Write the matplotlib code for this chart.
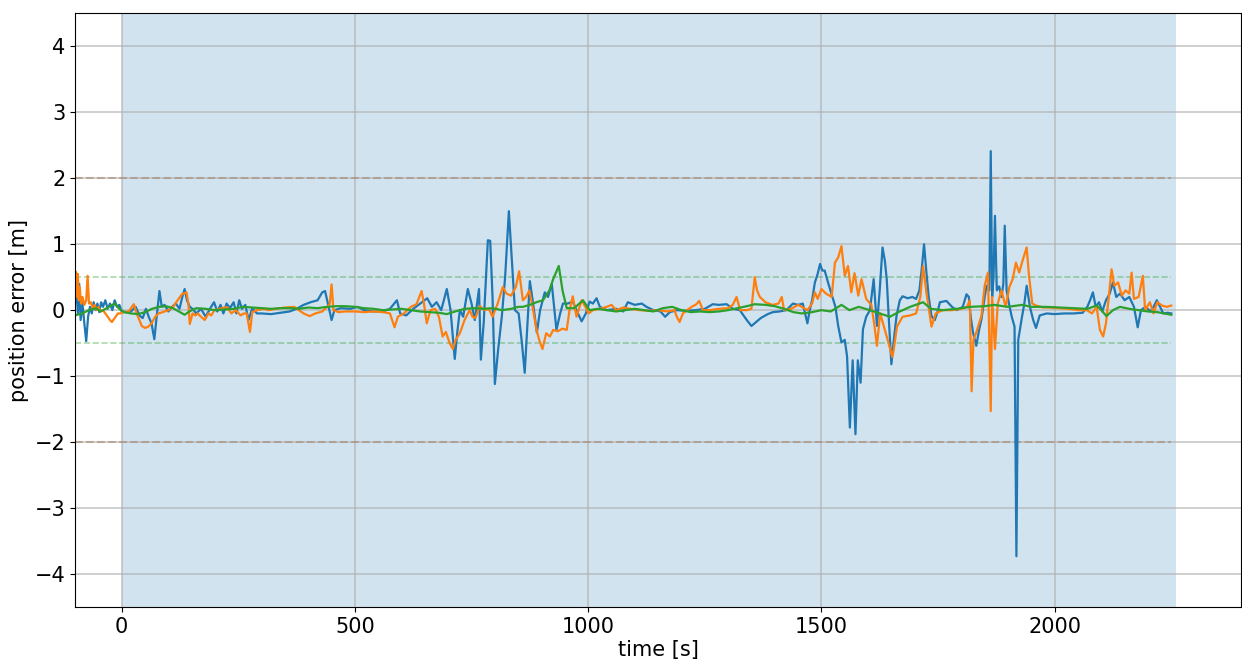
import matplotlib
matplotlib.use('Agg')
import matplotlib.pyplot as plt
import numpy as np

# error x (blue)
t_x = [-100, -97, -94, -91, -88, -84, -80, -76, -72, -68, -64, -60, -56, -52, -48, -44, -40, -35, -30, -25,
       -20, -15, -10, -5, 0, 10, 20, 30, 38, 45, 52, 58, 64, 70, 75, 81, 86, 92, 100, 108,
       116, 124, 130, 135, 140, 146, 152, 160, 170, 180, 190, 198, 205, 212, 218, 225, 232, 240, 246, 252,
       258, 265, 272, 280, 290, 300, 320, 340, 360, 375, 390, 405, 420, 430, 436, 442, 450, 456, 470, 490,
       505, 520, 540, 560, 575, 590, 597, 610, 625, 640, 655, 665, 675, 685, 697, 705, 714, 720, 725, 732,
       742, 750, 757, 766, 770, 776, 785, 790, 795, 800, 807, 815, 822, 830, 836, 843, 851, 858, 864, 870,
       875, 882, 890, 897, 907, 914, 922, 932, 940, 946, 956, 967, 975, 986, 995, 1003, 1010, 1018, 1025, 1040,
       1060, 1075, 1085, 1100, 1115, 1125, 1140, 1155, 1165, 1175, 1190, 1210, 1230, 1250, 1267, 1280, 1297, 1310, 1325, 1340,
       1350, 1360, 1370, 1385, 1396, 1410, 1425, 1439, 1450, 1460, 1470, 1475, 1480, 1486, 1492, 1497, 1502, 1507, 1515, 1525,
       1530, 1536, 1543, 1550, 1555, 1561, 1567, 1573, 1578, 1584, 1589, 1596, 1604, 1612, 1619, 1625, 1631, 1636, 1640, 1645,
       1650, 1656, 1661, 1668, 1674, 1685, 1695, 1703, 1710, 1715, 1720, 1725, 1730, 1736, 1743, 1750, 1754, 1768, 1780, 1790,
       1803, 1811, 1816, 1820, 1825, 1832, 1838, 1843, 1850, 1854, 1860, 1863, 1866, 1869, 1872, 1876, 1881, 1886, 1890, 1893,
       1897, 1902, 1908, 1914, 1918, 1922, 1930, 1935, 1940, 1947, 1954, 1960, 1968, 1983, 2000, 2020, 2040, 2060, 2070, 2076,
       2082, 2088, 2095, 2102, 2110, 2118, 2125, 2132, 2140, 2150, 2160, 2170, 2178, 2185, 2195, 2205, 2212, 2219, 2226, 2233,
       2242, 2250]
err_x = [0.1, 0.35, -0.05, 0.4, -0.15, 0.1, -0.2, -0.47, -0.1, 0.05, -0.05, 0.12, 0.0, 0.1, -0.03, 0.12, 0.05, 0.15, 0.02, 0.1,
         0.0, 0.15, 0.05, 0.08, -0.02, -0.03, -0.02, 0.05, -0.08, -0.12, 0.02, -0.1, -0.2, -0.44, -0.1, 0.29, 0.05, 0.08, -0.02, 0.05,
         0.1, 0.02, 0.2, 0.32, 0.15, 0.05, 0.02, -0.05, 0.02, -0.1, 0.03, 0.12, -0.02, 0.08, -0.05, 0.1, 0.03, 0.12, -0.05, 0.15,
         0.02, 0.08, -0.15, 0.03, -0.05, -0.05, -0.06, -0.04, -0.02, 0.02, 0.08, 0.12, 0.15, 0.27, 0.29, 0.1, -0.15, 0.0, 0.03, 0.02,
         0.05, 0.0, -0.02, -0.02, 0.02, 0.15, -0.05, -0.08, 0.02, 0.1, 0.18, 0.05, 0.12, 0.0, 0.32, 0.0, -0.74, -0.3, 0.0, -0.1,
         0.32, 0.1, -0.15, 0.32, -0.75, -0.2, 1.06, 1.05, 0.2, -1.12, -0.6, -0.09, 0.5, 1.5, 0.8, 0.0, -0.05, -0.5, -0.95, -0.2,
         0.44, 0.1, -0.34, 0.0, 0.27, 0.2, 0.4, -0.3, -0.05, 0.1, 0.1, 0.13, 0.0, -0.17, -0.05, 0.13, 0.1, 0.18, 0.05, 0.0,
         0.02, -0.02, 0.12, 0.08, 0.1, 0.05, 0.0, -0.02, -0.1, -0.03, 0.0, -0.01, 0.0, 0.02, 0.09, 0.08, 0.09, 0.02, 0.0, -0.15,
         -0.24, -0.18, -0.12, -0.06, -0.03, -0.02, 0.0, 0.1, 0.08, 0.1, -0.2, 0.0, 0.15, 0.42, 0.55, 0.7, 0.6, 0.6, 0.4, 0.17,
         0.05, -0.24, -0.49, -0.45, -0.7, -1.78, -0.76, -1.88, -0.76, -1.1, -0.29, -0.1, 0.0, 0.47, -0.24, 0.3, 0.95, 0.75, 0.47, -0.2,
         -0.82, -0.4, -0.09, 0.15, 0.21, 0.18, 0.2, 0.17, 0.3, 0.62, 1.0, 0.58, 0.2, -0.09, -0.15, 0.0, 0.12, 0.14, 0.05, 0.0,
         0.05, 0.24, 0.2, -0.1, -0.34, -0.54, -0.3, -0.14, 0.2, 0.37, 0.3, 2.41, 0.2, 0.5, 1.43, 0.3, 0.36, 0.2, 0.4, 1.28,
         0.3, 0.1, -0.1, -0.25, -3.73, -0.45, -0.1, 0.1, 0.37, 0.05, -0.15, -0.27, -0.08, -0.05, -0.06, -0.05, -0.05, -0.04, 0.05, 0.15,
         0.27, 0.05, 0.12, -0.02, 0.15, 0.25, 0.42, 0.2, 0.25, 0.15, 0.2, 0.05, -0.26, 0.0, 0.05, -0.02, 0.05, 0.15, 0.05, -0.05,
         -0.04, -0.05]

# error y (orange)
t_y = [-100, -98, -96, -94, -92, -90, -87, -84, -80, -76, -73, -70, -66, -62, -58, -54, -50, -45, -40, -35,
       -30, -25, -21, -15, -8, -3, 5, 15, 22, 26, 32, 38, 43, 50, 57, 64, 72, 79, 88, 100,
       110, 120, 129, 139, 143, 146, 152, 158, 163, 170, 178, 186, 192, 199, 210, 220, 227, 235, 245, 255,
       262, 268, 275, 280, 290, 305, 315, 330, 350, 370, 390, 403, 415, 430, 446, 450, 454, 465, 480, 500,
       520, 540, 560, 575, 585, 592, 605, 620, 632, 643, 648, 654, 662, 672, 680, 688, 695, 703, 710, 716,
       725, 735, 746, 752, 758, 768, 778, 787, 795, 806, 817, 825, 835, 845, 852, 860, 867, 874, 882, 889,
       895, 902, 910, 918, 925, 935, 945, 954, 960, 967, 975, 986, 994, 1001, 1010, 1025, 1040, 1050, 1060, 1075,
       1090, 1110, 1130, 1150, 1170, 1185, 1190, 1196, 1203, 1212, 1222, 1232, 1238, 1246, 1260, 1280, 1300, 1310, 1318, 1326,
       1340, 1350, 1357, 1362, 1368, 1380, 1395, 1408, 1415, 1420, 1435, 1450, 1458, 1470, 1480, 1486, 1492, 1500, 1510, 1522,
       1529, 1536, 1543, 1550, 1557, 1564, 1571, 1579, 1586, 1596, 1607, 1613, 1619, 1626, 1640, 1652, 1655, 1662, 1674, 1690,
       1703, 1712, 1718, 1725, 1736, 1745, 1760, 1780, 1800, 1812, 1818, 1822, 1826, 1832, 1838, 1843, 1850, 1857, 1863, 1866,
       1872, 1878, 1886, 1895, 1903, 1910, 1917, 1924, 1932, 1940, 1945, 1952, 1960, 1975, 1990, 2010, 2030, 2050, 2069, 2080,
       2090, 2097, 2104, 2110, 2116, 2122, 2128, 2136, 2144, 2152, 2160, 2165, 2170, 2180, 2189, 2194, 2204, 2212, 2220, 2230,
       2240, 2250]
err_y = [0.3, 0.58, 0.2, 0.55, 0.15, 0.35, 0.1, 0.2, 0.08, 0.15, 0.52, 0.1, 0.12, 0.02, 0.08, 0.0, 0.05, -0.02, 0.0, -0.05,
         -0.1, -0.15, -0.18, -0.12, -0.05, -0.05, -0.03, -0.02, 0.05, 0.09, -0.05, -0.15, -0.24, -0.27, -0.25, -0.2, -0.1, -0.05, -0.03, 0.0,
         0.05, 0.15, 0.24, 0.27, 0.1, -0.21, -0.05, -0.08, -0.05, -0.1, -0.15, -0.05, -0.08, 0.0, 0.02, 0.04, 0.04, -0.05, 0.0, -0.08,
         -0.05, -0.05, -0.33, -0.03, 0.0, 0.02, 0.0, 0.02, 0.04, 0.05, -0.05, -0.09, -0.05, -0.02, 0.09, 0.39, 0.0, -0.03, -0.02, -0.02,
         -0.03, -0.02, -0.03, -0.05, -0.26, -0.1, -0.05, 0.05, 0.09, 0.29, 0.1, -0.2, 0.0, 0.02, -0.1, -0.4, -0.33, -0.5, -0.59, -0.45,
         -0.35, -0.15, 0.0, -0.1, -0.12, 0.06, 0.0, 0.02, -0.1, 0.1, 0.35, 0.25, 0.22, 0.35, 0.59, 0.15, 0.2, 0.3, 0.0, -0.29,
         -0.45, -0.59, -0.35, -0.4, -0.3, -0.32, -0.28, -0.3, 0.0, 0.21, -0.1, 0.15, 0.05, -0.05, 0.0, 0.02, 0.05, 0.08, 0.0, 0.04,
         0.02, 0.0, -0.01, 0.0, -0.02, 0.0, -0.1, -0.18, -0.05, 0.0, 0.05, 0.09, 0.14, 0.0, 0.0, 0.02, 0.03, 0.08, 0.2, 0.0,
         0.0, 0.02, 0.5, 0.3, 0.2, 0.12, 0.08, 0.1, 0.2, 0.0, 0.02, 0.08, 0.05, 0.0, 0.1, 0.27, 0.17, 0.32, 0.25, 0.2,
         0.72, 0.8, 0.97, 0.52, 0.67, 0.27, 0.56, 0.22, 0.47, 0.17, 0.08, -0.2, -0.54, -0.05, -0.4, -0.71, -0.6, -0.25, -0.1, -0.08,
         -0.05, 0.2, 0.67, 0.27, -0.25, -0.05, 0.0, 0.0, 0.02, 0.05, 0.15, -1.23, -0.44, -0.34, -0.2, -0.09, 0.37, 0.57, -1.53, 0.2,
         -0.59, 0.1, 0.3, 0.05, 0.35, 0.47, 0.72, 0.57, 0.77, 0.95, 0.52, 0.1, 0.07, 0.04, 0.04, 0.03, 0.02, 0.0, 0.0, -0.05,
         0.05, -0.3, -0.4, -0.2, 0.2, 0.62, 0.37, 0.42, 0.22, 0.3, 0.25, 0.57, 0.17, 0.2, 0.52, 0.0, 0.12, -0.05, 0.12, 0.07,
         0.05, 0.07]

# error z (green)
t_z = [-100, -85, -70, -55, -45, -35, -25, -15, -5, 5, 20, 35, 50, 65, 80, 95, 110, 125, 135, 145,
       160, 180, 200, 220, 240, 260, 280, 300, 320, 340, 360, 380, 400, 420, 440, 460, 480, 500, 520, 540,
       560, 580, 600, 620, 640, 660, 680, 697, 715, 735, 755, 775, 795, 815, 835, 850, 860, 875, 889, 903,
       917, 925, 937, 945, 954, 970, 989, 1003, 1020, 1040, 1060, 1080, 1100, 1120, 1140, 1160, 1180, 1200, 1220, 1240,
       1260, 1280, 1300, 1320, 1340, 1357, 1380, 1400, 1420, 1440, 1458, 1480, 1500, 1520, 1543, 1560, 1580, 1604, 1625, 1647,
       1665, 1690, 1718, 1735, 1760, 1790, 1820, 1850, 1870, 1900, 1930, 1950, 1980, 2010, 2040, 2070, 2090, 2100, 2111, 2125,
       2140, 2160, 2180, 2200, 2220, 2250]
err_z = [-0.08, -0.05, 0.0, 0.03, -0.02, 0.02, 0.06, 0.1, 0.02, -0.03, -0.05, -0.06, -0.03, 0.02, 0.05, 0.06, 0.03, -0.03, -0.07, -0.02,
         0.03, 0.02, 0.0, 0.01, 0.02, 0.05, 0.04, 0.03, 0.02, 0.03, 0.03, 0.02, 0.04, 0.03, 0.05, 0.06, 0.06, 0.05, 0.03, 0.02,
         0.0, 0.01, 0.02, 0.0, -0.02, -0.03, -0.04, -0.06, -0.02, 0.02, 0.03, 0.02, 0.03, 0.0, 0.02, 0.05, 0.05, 0.08, 0.12, 0.15,
         0.3, 0.47, 0.67, 0.3, 0.03, 0.03, 0.15, 0.0, 0.02, 0.0, -0.02, 0.0, 0.02, 0.0, -0.02, 0.03, 0.05, 0.0, -0.03, -0.02,
         -0.03, -0.02, 0.0, 0.03, 0.06, 0.09, 0.08, 0.06, 0.02, -0.03, -0.05, -0.03, 0.0, -0.02, 0.08, 0.0, 0.05, 0.0, -0.05, -0.1,
         -0.03, 0.05, 0.12, 0.02, 0.0, 0.02, 0.05, 0.06, 0.08, 0.05, 0.08, 0.05, 0.05, 0.04, 0.03, 0.02, 0.07, 0.0, -0.09, 0.0,
         0.05, 0.02, 0.0, -0.02, -0.03, -0.07]

limits_big = [2, -2]
limits_small = [0.5, -0.5]
t_start = 0
t_end = 2260

fig = plt.figure(figsize=(12.42, 6.62), dpi=100)
ax = fig.add_axes([0.0604, 0.083, 0.939, 0.897])

ax.axvspan(t_start, t_end, color='C0', alpha=0.2, lw=0)

t0, t1 = min(t_x), max(t_x)
for lim in limits_big:
    ax.plot([t0, t1], [lim, lim], '--', color='#a88a72', alpha=0.6, lw=1.5)
for lim in limits_small:
    ax.plot([t0, t1], [lim, lim], '--', color='C2', alpha=0.4, lw=1.2)

ax.plot(t_x, err_x, color='C0', lw=1.6)
ax.plot(t_y, err_y, color='C1', lw=1.6)
ax.plot(t_z, err_z, color='C2', lw=1.6)

ax.set_xlim(-100, 2400)
ax.set_ylim(-4.5, 4.5)
ax.set_yticks([-4, -3, -2, -1, 0, 1, 2, 3, 4])
ax.set_xticks([0, 500, 1000, 1500, 2000])
ax.grid(True, color='#b0b0b0', alpha=0.7, lw=1.2)
ax.tick_params(labelsize=15)
ax.set_xlabel('time [s]', fontsize=15, labelpad=2)
ax.set_ylabel('position error [m]', fontsize=15)

plt.savefig('out.png', dpi=100)
